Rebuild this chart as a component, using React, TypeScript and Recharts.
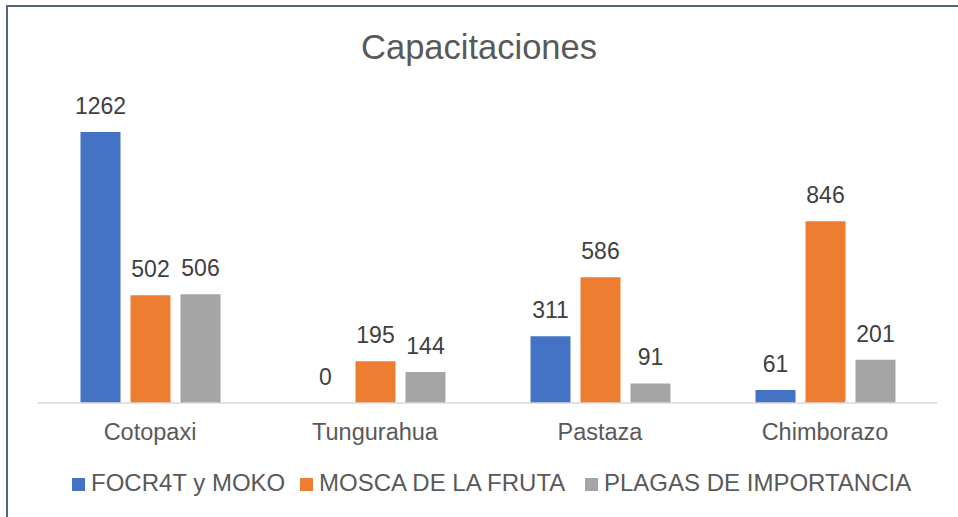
import React from 'react';
import { BarChart, Bar, XAxis, YAxis, LabelList } from 'recharts';

const categories = ['Cotopaxi', 'Tungurahua', 'Pastaza', 'Chimborazo'];
const focr4tMoko = [1262, 0, 311, 61];
const moscaFruta = [502, 195, 586, 846];
const plagasImportancia = [506, 144, 91, 201];

const seriesNames = ['FOCR4T y MOKO', 'MOSCA DE LA FRUTA', 'PLAGAS DE IMPORTANCIA'];
const seriesKeys = ['focr', 'mosca', 'plagas'];
const seriesColors = ['#4472C4', '#ED7D31', '#A5A5A5'];
const legendLefts = [72, 300, 585];

const data = categories.map((c, i) => ({
  name: c,
  focr: focr4tMoko[i],
  mosca: moscaFruta[i],
  plagas: plagasImportancia[i],
}));

const FONT = '"Liberation Sans", Arial, sans-serif';
const XAXIS_H = 30;

const LegendBlock = () => (
  <div style={{ position: 'absolute', top: 0, left: 0, width: 958, height: 517, fontFamily: FONT, fontSize: 24, color: '#595959' }}>
    {seriesNames.map((n, i) => (
      <React.Fragment key={n}>
        <div style={{ position: 'absolute', left: legendLefts[i], top: 478, width: 13, height: 13, background: seriesColors[i] }} />
        <div style={{ position: 'absolute', left: legendLefts[i] + 19, top: 470.7, lineHeight: '24px', whiteSpace: 'nowrap' }}>{n}</div>
      </React.Fragment>
    ))}
  </div>
);

export default function App() {
  return (
    <div style={{ position: 'absolute', left: 0, top: 0, width: 958, height: 517, background: '#fff', overflow: 'hidden', fontFamily: FONT }}>
      <div style={{ position: 'absolute', left: 6, top: 5, width: 1000, height: 600, borderLeft: '2px solid #55657d', borderTop: '2px solid #55657d' }} />
      <div style={{ position: 'absolute', left: 0, top: 30, width: 958, textAlign: 'center', fontSize: 34.5, lineHeight: '34px', color: '#595959' }}>
        Capacitaciones
      </div>
      <BarChart
        width={958}
        height={517}
        data={data}
        margin={{ top: 102.4, right: 20.5, bottom: 114 - XAXIS_H, left: 37.5 }}
        barSize={40}
        barGap={10}
        style={{ position: 'absolute', left: 0, top: 0 }}
      >
        <XAxis
          dataKey="name"
          height={XAXIS_H}
          axisLine={{ stroke: '#d9d9d9', strokeWidth: 1.5 }}
          tickLine={false}
          tickSize={0}
          tickMargin={20}
          tick={{ fill: '#595959', fontSize: 23.5, fontFamily: FONT }}
        />
        <YAxis hide domain={[0, 1400]} />
        {seriesKeys.map((k, i) => (
          <Bar key={k} dataKey={k} name={seriesNames[i]} fill={seriesColors[i]} minPointSize={0.01} isAnimationActive={false}>
            <LabelList dataKey={k} position="top" offset={18} fill="#404040" fontSize={23} fontFamily={FONT} />
          </Bar>
        ))}
      </BarChart>
      <LegendBlock />
    </div>
  );
}
